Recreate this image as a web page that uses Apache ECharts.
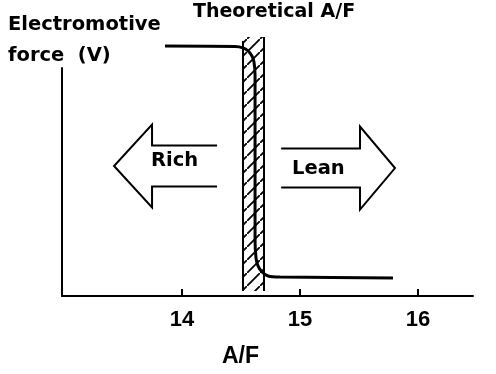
<!DOCTYPE html>
<html>
<head>
<meta charset="utf-8">
<script src="https://cdn.jsdelivr.net/npm/echarts@6/dist/echarts.min.js"></script>
<style>html,body{margin:0;padding:0;background:#fff}#c{width:496px;height:374px}</style>
</head>
<body>
<div id="c"></div>
<script>
// ---- data ----
const xTicks = [14, 15, 16];
const curveAF  = [13.856, 14.449, 14.517, 14.559, 14.593, 14.610, 14.619, 14.619, 14.619, 14.627, 14.644, 14.678, 14.729, 14.830, 15.788];
const curveEMF = [1.096, 1.094, 1.088, 1.075, 1.053, 1.026, 0.969, 0.640, 0.246, 0.167, 0.132, 0.105, 0.088, 0.083, 0.079];
const bandAF  = [14.517, 14.695];
const bandEMF = [0.022, 1.136];
const arrowLabels = ['Rich', 'Lean'];
const arrowTailAF = [14.297, 14.840];
const arrowTipAF  = [13.424, 15.805];
const arrowEMF    = [0.570, 0.561];
const labelAF     = [13.737, 14.932];
const labelEMF    = [0.592, 0.557];

// ---- pattern for hatching ----
const P = 13;
const pc = document.createElement('canvas');
pc.width = P; pc.height = P;
const g = pc.getContext('2d');
g.fillStyle = '#fff'; g.fillRect(0, 0, P, P);
g.strokeStyle = '#000'; g.lineWidth = 1.8;
g.beginPath();
g.moveTo(-3, P + 3); g.lineTo(P + 3, -3);
g.moveTo(-P - 3, 3); g.lineTo(3, -P - 3);
g.moveTo(P - 3, 2 * P + 3); g.lineTo(2 * P + 3, P - 3);
g.stroke();

const chart = echarts.init(document.getElementById('c'), null, {renderer: 'canvas'});
const titleFont = '"DejaVu Sans", sans-serif';
const numFont = '"Liberation Sans", Arial, sans-serif';

const option = {
  backgroundColor: '#fff',
  animation: false,
  grid: {left: 62, right: 23, top: 68, bottom: 78, containLabel: false},
  xAxis: {
    type: 'value', min: 12.983, max: 16.466,
    axisLine: {show: true, lineStyle: {color: '#000', width: 2}},
    axisTick: {show: true, inside: true, length: 7, customValues: xTicks, lineStyle: {color: '#000', width: 2}},
    axisLabel: {show: true, customValues: xTicks, margin: 24, verticalAlign: 'middle',
      color: '#000', fontFamily: numFont, fontWeight: 'bold', fontSize: 22},
    splitLine: {show: false}
  },
  yAxis: {
    type: 'value', min: 0, max: 1,
    axisLine: {show: true, lineStyle: {color: '#000', width: 2}},
    axisTick: {show: false}, axisLabel: {show: false}, splitLine: {show: false}
  },
  graphic: [
    {type: 'text', left: 8, top: 15, style: {text: 'Electromotive', font: 'bold 19.5px ' + titleFont, fill: '#000'}},
    {type: 'text', left: 8, top: 46, style: {text: 'force  (V)', font: 'bold 19.5px ' + titleFont, fill: '#000'}},
    {type: 'text', left: 193, top: 3, style: {text: 'Theoretical A/F', font: 'bold 19px ' + titleFont, fill: '#000'}},
    {type: 'text', left: 222, top: 345, style: {text: 'A/F', font: 'bold 23px ' + numFont, fill: '#000'}}
  ],
  series: [
    {
      type: 'custom', coordinateSystem: 'cartesian2d', clip: false, z: 1,
      data: [[bandAF[0], bandEMF[0], bandAF[1], bandEMF[1]]],
      renderItem: function (params, api) {
        const p0 = api.coord([api.value(0), api.value(3)]);
        const p1 = api.coord([api.value(2), api.value(1)]);
        return {type: 'group', children: [
          {type: 'rect', shape: {x: p0[0], y: p0[1], width: p1[0] - p0[0], height: p1[1] - p0[1]},
           style: {fill: {image: pc, repeat: 'repeat'}, stroke: null}},
          {type: 'line', shape: {x1: p0[0], y1: p0[1] + 4, x2: p0[0], y2: p1[1]}, style: {stroke: '#000', lineWidth: 2}},
          {type: 'line', shape: {x1: p1[0], y1: p0[1], x2: p1[0], y2: p1[1]}, style: {stroke: '#000', lineWidth: 2}}
        ]};
      }
    },
    {
      type: 'line', clip: false, z: 3, showSymbol: false, symbol: 'none', smooth: 0.25,
      lineStyle: {color: '#000', width: 3},
      data: curveAF.map((x, i) => [x, curveEMF[i]])
    },
    {
      type: 'custom', coordinateSystem: 'cartesian2d', clip: false, z: 2,
      data: arrowLabels.map((t, i) => [arrowTailAF[i], arrowTipAF[i], arrowEMF[i], labelAF[i], labelEMF[i]]),
      renderItem: function (params, api) {
        const tail = api.coord([api.value(0), api.value(2)]);
        const tip = api.coord([api.value(1), api.value(2)]);
        const lab = api.coord([api.value(3), api.value(4)]);
        const dir = tip[0] < tail[0] ? -1 : 1;
        const headLen = dir < 0 ? 38 : 35;
        const shaftH = dir < 0 ? 20.5 : 19.5;
        const headH = 41.5;
        const yc = tail[1];
        const hb = tip[0] - dir * headLen;
        const pts = [
          [tail[0], yc - shaftH], [hb, yc - shaftH], [hb, yc - headH], [tip[0], yc],
          [hb, yc + headH], [hb, yc + shaftH], [tail[0], yc + shaftH]
        ];
        return {type: 'group', children: [
          {type: 'polyline', shape: {points: pts}, style: {stroke: '#000', lineWidth: 2, fill: null}},
          {type: 'text', x: lab[0], y: lab[1], style: {text: arrowLabels[params.dataIndex],
            font: 'bold 19.5px ' + titleFont, fill: '#000', align: 'left', verticalAlign: 'middle'}}
        ]};
      }
    }
  ]
};
chart.setOption(option);
</script>
</body>
</html>
